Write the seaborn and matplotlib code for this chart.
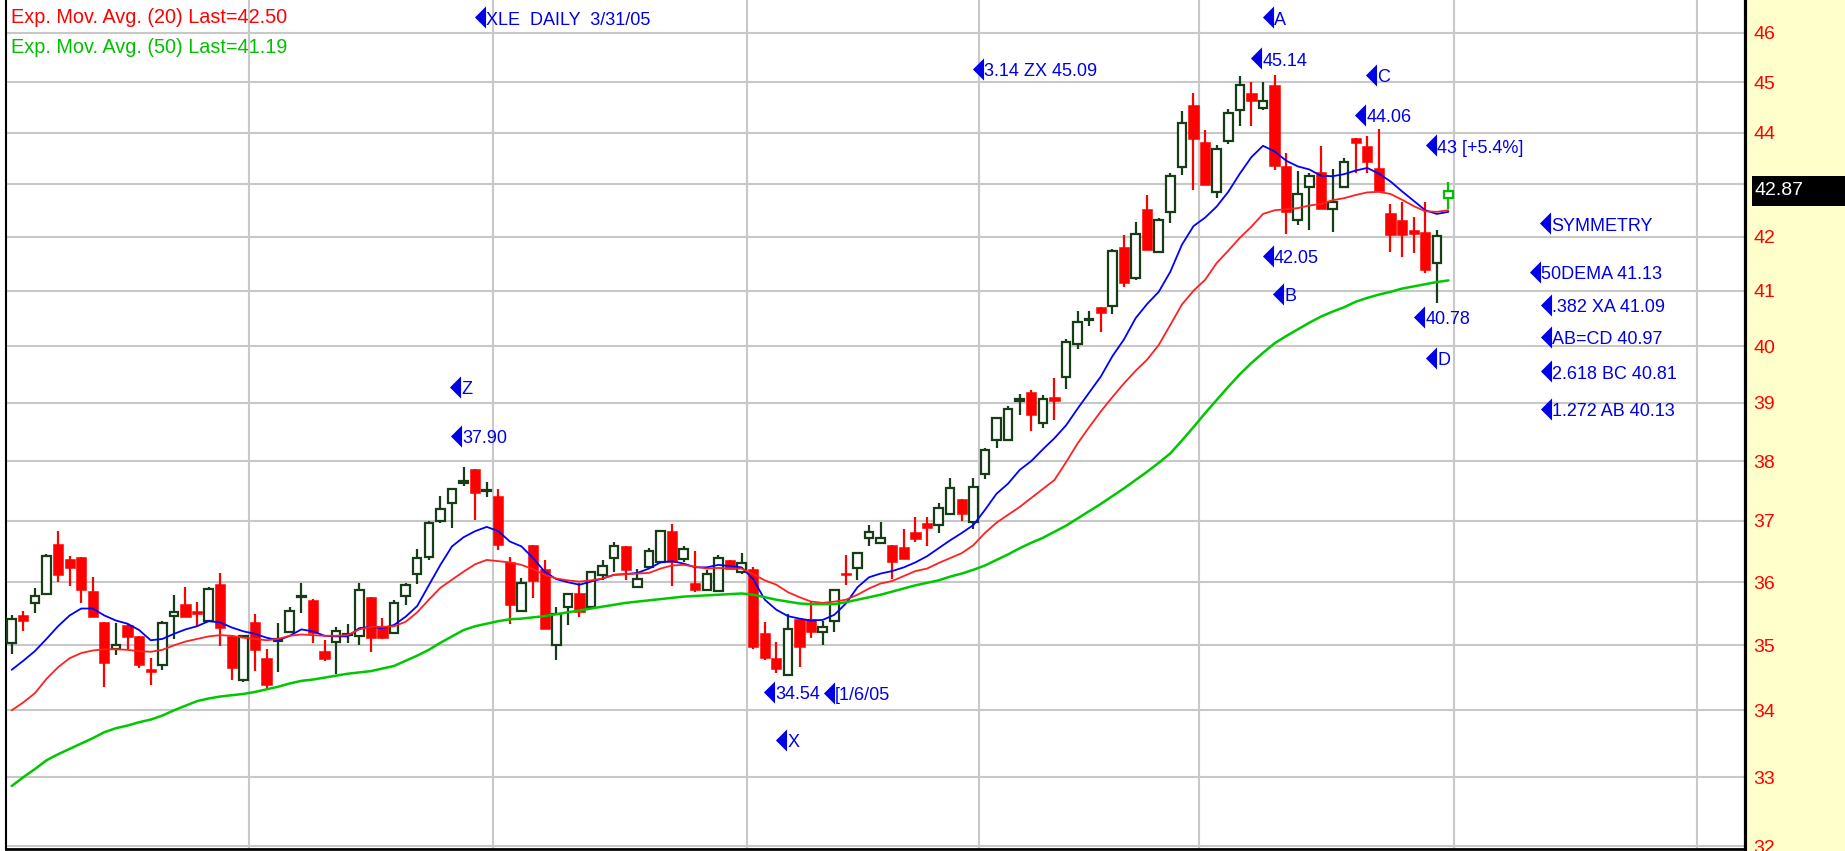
"""
XLE daily candlestick chart with exponential moving averages and
harmonic-pattern price annotations (recreated from a screenshot).
"""

import numpy as np
import matplotlib
matplotlib.use("Agg")
import matplotlib.pyplot as plt
import matplotlib.transforms as mtransforms
from matplotlib.path import Path
from matplotlib.markers import MarkerStyle
from matplotlib.patches import Rectangle
from matplotlib.ticker import FixedLocator, FixedFormatter, NullLocator, NullFormatter
import seaborn as sns

# ---------------------------------------------------------------
# data (trading-day index 0 = 1 Oct 2004, 124 = 31 Mar 2005)
# ---------------------------------------------------------------
open_ = [35.03, 35.48, 35.67, 35.81, 36.62, 36.37, 36.40, 35.86, 35.37, 34.94,
         35.32, 35.15, 34.64, 34.70, 35.46, 35.65, 35.54, 35.39, 35.97, 35.15,
         34.46, 35.37, 34.81, 35.07, 35.21, 35.76, 35.72, 34.91, 35.05, 35.16,
         35.14, 35.76, 35.29, 35.19, 35.78, 36.13, 36.41, 37.00, 37.29, 37.63,
         37.86, 37.50, 37.42, 36.32, 35.54, 36.61, 36.22, 35.01, 35.61, 35.82,
         35.61, 36.11, 36.39, 36.58, 35.92, 36.25, 36.33, 36.83, 36.38, 35.99,
         35.87, 35.86, 36.36, 36.17, 36.22, 35.20, 34.81, 34.54, 35.41, 35.41,
         35.21, 35.39, 36.15, 36.23, 36.72, 36.63, 36.61, 36.57, 36.82, 36.97,
         36.93, 37.11, 37.37, 36.98, 37.78, 38.36, 38.36, 39.04, 39.19, 38.65,
         39.11, 39.45, 40.04, 40.47, 40.71, 40.72, 41.81, 41.23, 42.52, 41.72,
         42.47, 43.32, 44.55, 43.81, 42.85, 43.84, 44.45, 44.78, 44.48, 44.95,
         43.34, 42.32, 42.95, 43.24, 42.52, 42.95, 43.89, 43.73, 43.31, 42.44,
         42.32, 42.12, 42.09, 41.52, 42.73]
high = [35.47, 35.54, 35.90, 36.45, 36.84, 36.43, 36.40, 36.08, 35.37, 35.35,
        35.34, 35.15, 34.81, 35.39, 35.80, 35.93, 35.69, 35.93, 36.15, 35.15,
        35.16, 35.50, 34.95, 35.35, 35.61, 35.98, 35.73, 35.08, 35.29, 35.33,
        35.98, 35.76, 35.43, 35.71, 35.98, 36.53, 37.00, 37.41, 37.53, 37.90,
        37.86, 37.64, 37.53, 36.40, 36.07, 36.61, 36.36, 35.61, 35.81, 35.98,
        36.17, 36.36, 36.66, 36.58, 36.21, 36.55, 36.83, 36.95, 36.58, 36.51,
        36.20, 36.44, 36.36, 36.47, 36.25, 35.37, 35.06, 35.50, 35.41, 35.69,
        35.39, 35.88, 36.44, 36.47, 36.93, 36.98, 36.61, 36.87, 37.06, 37.06,
        37.30, 37.71, 37.37, 37.71, 38.23, 38.76, 38.94, 39.16, 39.22, 39.13,
        39.43, 40.12, 40.64, 40.64, 40.71, 41.78, 42.03, 42.27, 42.79, 42.35,
        43.21, 44.42, 44.78, 44.05, 43.76, 44.46, 45.12, 45.00, 45.00, 45.14,
        43.60, 43.26, 43.22, 43.73, 43.29, 43.50, 43.89, 43.94, 44.06, 42.62,
        42.66, 42.37, 42.66, 42.12, 43.03]
low = [34.86, 35.22, 35.51, 35.79, 36.01, 35.94, 35.66, 35.45, 34.35, 34.85,
       34.94, 34.65, 34.38, 34.62, 35.10, 35.45, 35.29, 35.39, 34.99, 34.46,
       34.44, 34.60, 34.32, 34.59, 35.19, 35.51, 35.04, 34.76, 34.56, 35.04,
       35.00, 34.90, 35.10, 35.19, 35.63, 35.97, 36.36, 36.96, 36.89, 37.58,
       37.02, 37.39, 36.52, 35.34, 35.54, 35.74, 35.25, 34.77, 35.32, 35.45,
       35.61, 36.03, 36.17, 36.03, 35.92, 36.25, 36.33, 35.94, 36.33, 35.85,
       35.87, 35.86, 36.21, 36.14, 34.95, 34.77, 34.57, 34.54, 34.67, 35.11,
       35.00, 35.21, 35.95, 36.04, 36.59, 36.63, 36.06, 36.38, 36.66, 36.59,
       36.80, 37.11, 37.00, 36.86, 37.69, 38.22, 38.35, 38.79, 38.52, 38.56,
       38.70, 39.24, 39.94, 40.36, 40.26, 40.58, 41.07, 41.19, 41.75, 41.72,
       42.25, 43.18, 42.89, 42.98, 42.73, 43.78, 44.13, 44.13, 44.45, 43.27,
       42.05, 42.22, 42.13, 42.52, 42.09, 42.95, 43.22, 43.22, 42.84, 41.72,
       41.63, 41.70, 41.33, 40.78, 42.52]
close = [35.41, 35.38, 35.78, 36.43, 36.12, 36.23, 35.88, 35.45, 34.72, 35.00,
         35.13, 34.69, 34.58, 35.35, 35.53, 35.45, 35.49, 35.89, 35.28, 34.65,
         35.14, 34.93, 34.38, 35.10, 35.54, 35.78, 35.19, 34.79, 35.22, 35.18,
         35.88, 35.11, 35.11, 35.67, 35.96, 36.39, 36.97, 37.19, 37.53, 37.66,
         37.47, 37.51, 36.60, 35.63, 35.99, 36.02, 35.25, 35.50, 35.81, 35.53,
         36.17, 36.26, 36.58, 36.20, 36.06, 36.51, 36.83, 36.33, 36.54, 35.87,
         36.14, 36.39, 36.22, 36.31, 34.98, 34.80, 34.63, 35.25, 34.98, 35.21,
         35.29, 35.88, 36.12, 36.47, 36.82, 36.72, 36.32, 36.38, 36.70, 36.89,
         37.22, 37.55, 37.11, 37.56, 38.19, 38.73, 38.90, 39.06, 38.79, 39.06,
         39.04, 40.08, 40.44, 40.49, 40.59, 41.74, 41.15, 42.06, 41.75, 42.32,
         43.16, 44.19, 43.87, 42.98, 43.68, 44.38, 44.95, 44.62, 44.62, 43.35,
         42.46, 42.81, 43.16, 42.52, 42.66, 43.42, 43.79, 43.42, 42.87, 42.03,
         42.03, 42.06, 41.38, 42.01, 42.87]

# short EMA (blue, no legend entry)
ema_fast = [34.62, 34.76, 34.91, 35.10, 35.30, 35.47, 35.58, 35.58, 35.47, 35.39,
            35.34, 35.24, 35.08, 35.10, 35.18, 35.25, 35.30, 35.38, 35.36, 35.28,
            35.22, 35.18, 35.12, 35.08, 35.15, 35.25, 35.22, 35.15, 35.14, 35.14,
            35.27, 35.29, 35.27, 35.32, 35.45, 35.62, 35.95, 36.28, 36.58, 36.73,
            36.83, 36.90, 36.83, 36.66, 36.58, 36.39, 36.17, 36.05, 36.00, 35.96,
            36.01, 36.06, 36.12, 36.13, 36.15, 36.22, 36.32, 36.34, 36.30, 36.24,
            36.24, 36.28, 36.26, 36.24, 36.05, 35.72, 35.56, 35.46, 35.42, 35.39,
            35.40, 35.48, 35.66, 35.92, 36.08, 36.14, 36.18, 36.24, 36.32, 36.42,
            36.55, 36.68, 36.80, 36.93, 37.18, 37.45, 37.62, 37.85, 38.00, 38.20,
            38.39, 38.61, 38.90, 39.18, 39.46, 39.82, 40.12, 40.50, 40.76, 40.98,
            41.35, 41.85, 42.20, 42.36, 42.57, 42.85, 43.20, 43.52, 43.74, 43.63,
            43.45, 43.34, 43.28, 43.16, 43.15, 43.19, 43.26, 43.31, 43.20, 43.05,
            42.86, 42.68, 42.50, 42.43, 42.47]
ema20 = [34.00, 34.12, 34.26, 34.48, 34.66, 34.80, 34.88, 34.92, 34.94, 34.94,
         34.93, 34.91, 34.90, 34.93, 35.00, 35.06, 35.10, 35.14, 35.16, 35.15,
         35.12, 35.10, 35.08, 35.10, 35.15, 35.17, 35.16, 35.15, 35.15, 35.16,
         35.25, 35.29, 35.29, 35.30, 35.37, 35.52, 35.72, 35.91, 36.04, 36.17,
         36.29, 36.36, 36.34, 36.32, 36.28, 36.21, 36.12, 36.06, 36.03, 36.01,
         36.03, 36.06, 36.12, 36.13, 36.14, 36.15, 36.22, 36.27, 36.28, 36.25,
         36.22, 36.23, 36.22, 36.22, 36.13, 36.03, 35.96, 35.84, 35.76, 35.69,
         35.67, 35.69, 35.72, 35.80, 35.90, 35.98, 36.02, 36.10, 36.18, 36.22,
         36.31, 36.39, 36.47, 36.60, 36.80, 36.97, 37.10, 37.23, 37.38, 37.53,
         37.68, 37.98, 38.30, 38.58, 38.85, 39.10, 39.34, 39.56, 39.76, 40.02,
         40.38, 40.75, 41.00, 41.20, 41.51, 41.74, 41.98, 42.19, 42.43, 42.50,
         42.52, 42.54, 42.59, 42.62, 42.69, 42.73, 42.79, 42.84, 42.85, 42.81,
         42.70, 42.58, 42.48, 42.47, 42.50]
ema50 = [32.87, 33.00, 33.12, 33.25, 33.34, 33.42, 33.50, 33.58, 33.67, 33.73,
         33.77, 33.82, 33.86, 33.92, 34.00, 34.07, 34.14, 34.18, 34.21, 34.23,
         34.25, 34.28, 34.32, 34.36, 34.41, 34.45, 34.47, 34.50, 34.53, 34.56,
         34.58, 34.60, 34.64, 34.68, 34.76, 34.84, 34.93, 35.04, 35.14, 35.24,
         35.30, 35.34, 35.38, 35.41, 35.42, 35.44, 35.46, 35.49, 35.52, 35.55,
         35.58, 35.61, 35.64, 35.67, 35.69, 35.71, 35.73, 35.75, 35.77, 35.78,
         35.79, 35.80, 35.81, 35.82, 35.80, 35.76, 35.72, 35.69, 35.66, 35.65,
         35.65, 35.65, 35.68, 35.72, 35.76, 35.80, 35.85, 35.90, 35.95, 35.99,
         36.03, 36.09, 36.14, 36.20, 36.27, 36.36, 36.45, 36.55, 36.64, 36.72,
         36.82, 36.92, 37.04, 37.16, 37.28, 37.41, 37.54, 37.68, 37.82, 37.97,
         38.13, 38.35, 38.58, 38.82, 39.05, 39.28, 39.50, 39.70, 39.88, 40.05,
         40.18, 40.30, 40.42, 40.53, 40.62, 40.70, 40.80, 40.87, 40.93, 40.98,
         41.04, 41.08, 41.12, 41.16, 41.19]

# first trading session of Nov, Dec, Jan, Feb, Mar, Apr, May
month_starts = [21, 42, 64, 84, 103, 125, 146]
price_ticks = list(range(32, 47))

# blue chart notes: text, trading-day index, price level
ann_labels = ["XLE  DAILY  3/31/05", "3.14 ZX 45.09", "A", "45.14", "C", "44.06",
              "43 [+5.4%]", "42.05", "B", "40.78", "D", "SYMMETRY", "50DEMA 41.13",
              ".382 XA 41.09", "AB=CD 40.97", "2.618 BC 40.81", "1.272 AB 40.13",
              "Z", "37.90", "34.54", "[1/6/05", "X"]
ann_x = [40.4, 83.4, 108.4, 107.4, 117.3, 116.4, 122.5, 108.4, 109.3, 121.5, 122.5,
         132.35, 131.5, 132.4, 132.4, 132.4, 132.4, 38.3, 38.33, 65.4, 70.5, 66.4]
ann_y = [46.32, 45.27, 46.32, 45.48, 45.15, 44.35, 43.75, 41.64, 40.95, 40.52, 39.79,
         42.25, 41.35, 40.74, 40.17, 39.55, 38.90, 39.28, 38.43, 34.28, 34.27, 33.55]

# ---------------------------------------------------------------
# styling
# ---------------------------------------------------------------
sns.set_style("white")
plt.rcParams["font.family"] = ["Liberation Sans", "DejaVu Sans"]

W, H, DPI = 1845, 851, 100
DARK_GREEN = "#163d16"
RED = "#ff0000"
BLUE = "#0000e6"
Y_LO, Y_HI = 31.96, 46.68

fig = plt.figure(figsize=(W / DPI, H / DPI), dpi=DPI, facecolor="white")

# yellow price panel on the right
ax_r = fig.add_axes([1748 / W, 0, (W - 1748) / W, 1])
ax_r.set_facecolor("#ffffcc")
ax_r.set_xticks([])
ax_r.set_yticks([])
for s in ax_r.spines.values():
    s.set_visible(False)
ax_r.set_zorder(0)

ax = fig.add_axes([6 / W, 2 / H, 1739 / W, 849 / H])
ax.set_zorder(1)
ax.set_facecolor("white")

o = np.array(open_)
h = np.array(high)
l = np.array(low)
c = np.array(close)
idx = np.arange(len(c))
up = c >= o
last = len(c) - 1

wick_colors = np.where(up, DARK_GREEN, RED).astype(object)
wick_colors[last] = "#00c000"
ax.vlines(idx, l, h, colors=list(wick_colors), lw=1.6, zorder=2)

dn = ~up
ax.bar(idx[dn], (o - c)[dn], bottom=c[dn], width=0.88, color=RED,
       edgecolor=RED, lw=0.4, zorder=3)
upm = up.copy()
upm[last] = False
ax.bar(idx[upm], np.maximum((c - o)[upm], 0.015), bottom=o[upm], width=0.74,
       facecolor="white", edgecolor=DARK_GREEN, lw=1.6, zorder=3)
ax.bar([idx[last]], [c[last] - o[last]], bottom=[o[last]], width=0.74,
       facecolor="white", edgecolor="#00c000", lw=1.6, zorder=3)

# moving averages
sns.lineplot(x=idx, y=ema_fast, ax=ax, color="#0000ff", lw=1.3, zorder=4)
sns.lineplot(x=idx, y=ema20, ax=ax, color="#ff2020", lw=1.3, zorder=4)
sns.lineplot(x=idx, y=ema50, ax=ax, color="#00c800", lw=1.8, zorder=4)

# last price box geometry (30 px tall, centred on the last close)
px_per_log = 849 / np.log(Y_HI / Y_LO)
half = 15 / px_per_log
box_x0 = (1752 - 6) / 1739

# axes, scale, grid; the tick label hidden under the price box is left blank
tick_labels = [("" if abs(np.log(p / c[last])) < 2 * half else str(p))
               for p in price_ticks]
ax.set_yscale("log")
ax.set_ylim(Y_LO, Y_HI)
ax.set_xlim(-0.49, 149.6)
ax.yaxis.set_major_locator(FixedLocator(price_ticks))
ax.yaxis.set_major_formatter(FixedFormatter(tick_labels))
ax.yaxis.set_minor_locator(NullLocator())
ax.yaxis.set_minor_formatter(NullFormatter())
ax.yaxis.tick_right()
ax.tick_params(axis="y", which="both", length=0, pad=6, labelcolor=RED,
               labelsize=14)
ax.set_xticks([m - 0.5 for m in month_starts])
ax.tick_params(axis="x", length=0, labelbottom=False)
ax.set_xlabel("")
ax.set_ylabel("")
ax.grid(True, color="#c8c8c8", lw=1.5)
ax.set_axisbelow(True)

ax.spines["top"].set_visible(False)
ax.spines["left"].set_linewidth(1.5)
ax.spines["right"].set_linewidth(2.3)
ax.spines["bottom"].set_linewidth(2.0)
for s in ("left", "right", "bottom"):
    ax.spines[s].set_color("black")

# legend lines, top left
fig.text(11 / W, 1 - 17.5 / H, f"Exp. Mov. Avg. (20) Last={ema20[-1]:.2f}",
         color=RED, fontsize=14.3, va="center", ha="left")
fig.text(11 / W, 1 - 47.5 / H, f"Exp. Mov. Avg. (50) Last={ema50[-1]:.2f}",
         color="#00c000", fontsize=14.3, va="center", ha="left")

# last price box at the right edge
trans = mtransforms.blended_transform_factory(ax.transAxes, ax.transData)
ax.add_patch(Rectangle((box_x0, c[last] * np.exp(-half)), 0.06,
                       c[last] * (np.exp(half) - np.exp(-half)),
                       transform=trans, facecolor="black", edgecolor="none",
                       clip_on=False, zorder=7))
ax.text(box_x0 + 0.0015, c[last], f"{c[last]:.2f}", transform=trans,
        color="white", fontsize=14, va="center", ha="left", zorder=8,
        clip_on=False)

# blue pointer notes
tri = MarkerStyle(Path([(-0.5, 0), (0.5, 1), (0.5, -1), (-0.5, 0)],
                       [Path.MOVETO, Path.LINETO, Path.LINETO, Path.CLOSEPOLY]))
ax.plot(ann_x, ann_y, ls="none", marker=tri, ms=16, color=BLUE,
        markeredgewidth=0, zorder=6, clip_on=False)
for text, x, y in zip(ann_labels, ann_x, ann_y):
    ax.annotate(text, (x, y), xytext=(4.4, -2), textcoords="offset points",
                color=BLUE, fontsize=13, va="center", ha="left", zorder=6)

fig.savefig("out.png", dpi=DPI)
